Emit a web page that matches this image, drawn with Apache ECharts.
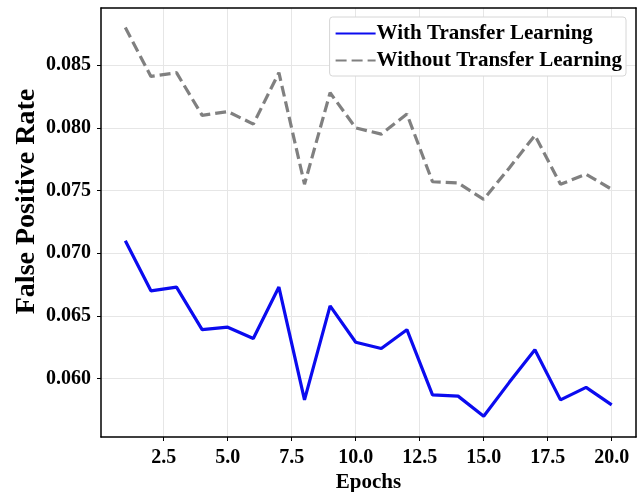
<!DOCTYPE html>
<html>
<head>
<meta charset="utf-8">
<script src="https://cdn.jsdelivr.net/npm/echarts@6/dist/echarts.min.js"></script>
<style>
  html, body { margin: 0; padding: 0; background: #fff; }
  #chart { width: 641px; height: 492px; }
</style>
</head>
<body>
<div id="chart"></div>
<script>
// Epoch numbers on the x axis
const epochs = [1, 2, 3, 4, 5, 6, 7, 8, 9, 10, 11, 12, 13, 14, 15, 16, 17, 18, 19, 20];

// False positive rate per epoch
const withTransfer = [0.0710, 0.0670, 0.0673, 0.0639, 0.0641, 0.0632, 0.0673, 0.0583, 0.0658, 0.0629,
                      0.0624, 0.0639, 0.0587, 0.0586, 0.0570, 0.0597, 0.0623, 0.0583, 0.0593, 0.0579];
const withoutTransfer = [0.0880, 0.0841, 0.0844, 0.0810, 0.0813, 0.0803, 0.0844, 0.0755, 0.0828, 0.0800,
                         0.0795, 0.0811, 0.0757, 0.0756, 0.0743, 0.0768, 0.0794, 0.0755, 0.0763, 0.0751];

// Tick positions
const xTicks = [2.5, 5.0, 7.5, 10.0, 12.5, 15.0, 17.5, 20.0];
const yTicks = [0.060, 0.065, 0.070, 0.075, 0.080, 0.085];

const seriesNames = ['With Transfer Learning', 'Without Transfer Learning'];

const FONT = '"Liberation Serif", "Times New Roman", serif';
const X_RANGE = [0.05, 20.95];
const Y_RANGE = [0.05534, 0.08956];

const toPairs = (vals) => epochs.map((e, i) => [e, vals[i]]);

// Plain frame axes for the top and right edges of the plot box
const frameAxis = (pos, range) => ({
  type: 'value', position: pos, min: range[0], max: range[1],
  axisLine: { show: true, onZero: false, lineStyle: { color: '#000', width: 1.5 } },
  axisTick: { show: false }, axisLabel: { show: false }, splitLine: { show: false }
});

const chart = echarts.init(document.getElementById('chart'), null, { renderer: 'canvas' });

chart.setOption({
  animation: false,
  backgroundColor: '#ffffff',
  grid: { left: 101, right: 5, top: 8, bottom: 55, outerBoundsMode: 'none', containLabel: false },
  legend: {
    orient: 'vertical',
    right: 15, top: 17,
    itemWidth: 40, itemHeight: 10, itemGap: 6,
    padding: [6, 4, 5, 5],
    backgroundColor: '#fff',
    borderColor: '#d6d6d6', borderWidth: 1, borderRadius: 3,
    itemStyle: { opacity: 0 },
    textStyle: { fontFamily: FONT, fontWeight: 'bold', fontSize: 21, color: '#000', padding: [0, 0, 0, -4] },
    data: seriesNames
  },
  xAxis: [{
    type: 'value', min: X_RANGE[0], max: X_RANGE[1],
    name: 'Epochs', nameLocation: 'middle', nameGap: 35, nameMoveOverlap: false,
    nameTextStyle: { fontFamily: FONT, fontWeight: 'bold', fontSize: 21, color: '#000' },
    axisLine: { show: true, onZero: false, lineStyle: { color: '#000', width: 1.5 } },
    axisTick: { show: true, inside: false, length: 4, lineStyle: { color: '#000', width: 1 }, customValues: xTicks },
    axisLabel: {
      customValues: xTicks, margin: 11,
      fontFamily: FONT, fontWeight: 'bold', fontSize: 20, color: '#000',
      formatter: (v) => v.toFixed(1)
    },
    splitLine: { show: true, lineStyle: { color: '#e6e6e6', width: 1 } }
  }, frameAxis('top', X_RANGE)],
  yAxis: [{
    type: 'value', min: Y_RANGE[0], max: Y_RANGE[1],
    name: 'False Positive Rate', nameLocation: 'middle', nameGap: 60, nameRotate: 90, nameMoveOverlap: false,
    nameTextStyle: { fontFamily: FONT, fontWeight: 'bold', fontSize: 28, color: '#000', padding: [0, 0, 0, 42] },
    axisLine: { show: true, onZero: false, lineStyle: { color: '#000', width: 1.5 } },
    axisTick: { show: true, inside: false, length: 4, lineStyle: { color: '#000', width: 1 }, customValues: yTicks },
    axisLabel: {
      customValues: yTicks, margin: 10,
      fontFamily: FONT, fontWeight: 'bold', fontSize: 20, color: '#000',
      formatter: (v) => v.toFixed(3)
    },
    splitLine: { show: true, lineStyle: { color: '#e6e6e6', width: 1 } }
  }, frameAxis('right', Y_RANGE)],
  series: [
    {
      name: seriesNames[0], type: 'line', data: toPairs(withTransfer),
      symbol: 'none', color: '#0b0bef',
      lineStyle: { color: '#0b0bef', width: 3.2 }
    },
    {
      name: seriesNames[1], type: 'line', data: toPairs(withoutTransfer),
      symbol: 'none', color: '#808080',
      lineStyle: { color: '#808080', width: 3.2, type: [11, 5] }
    }
  ]
});
</script>
</body>
</html>
